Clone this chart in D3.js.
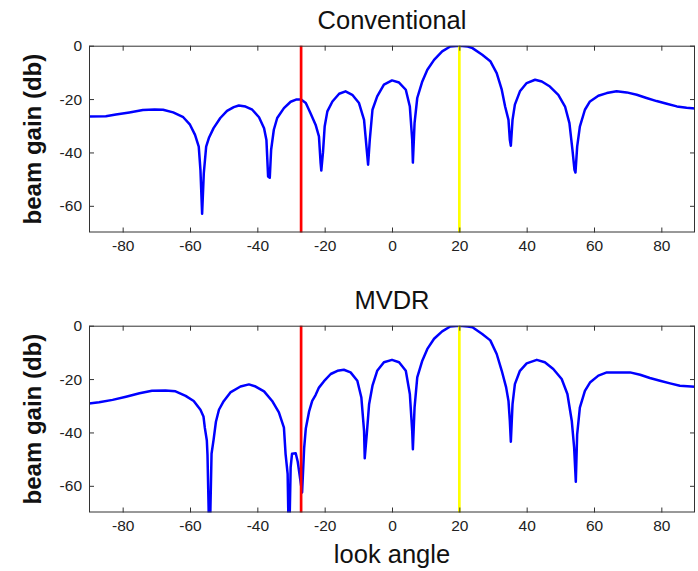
<!DOCTYPE html>
<html>
<head>
<meta charset="utf-8">
<script src="https://cdn.jsdelivr.net/npm/d3@7"></script>
<style>
	body { margin: 0; background: #fff; }
	svg { display: block; font-family: "Liberation Sans", Arial, sans-serif; }
</style>
</head>
<body>
<svg id="chart" width="698" height="571"></svg>
<script>
// beam pattern, angle in degrees, gain in db
const convAngle = [-90, -85, -82, -78, -74, -70.5, -68, -65, -62, -60, -58.5, -57.4, -56.9, -56.4, -55.9, -55.2, -54.4, -53, -51, -49, -47, -45.5, -43.5, -41.5, -39.5, -38, -37.3, -36.8, -36.3, -35.9, -35.1, -34.1, -32.1, -30.1, -28.5, -27, -25.6, -24.2, -22.7, -21.7, -21.2, -21, -20.5, -20, -19.2, -17.7, -15.7, -13.8, -11.8, -9.8, -8.3, -7.5, -7.1, -6.6, -5.8, -4.4, -2.4, 0, 2.1, 4.1, 5.3, 6, 6.2, 6.7, 7.5, 9, 10.5, 12.5, 14.9, 17.3, 20, 22.5, 23.9, 26.8, 29.2, 31.1, 32.6, 33.6, 34.6, 35, 35.3, 35.8, 36.5, 38, 40, 42.5, 44.5, 46.9, 49.4, 51.4, 52.7, 53.6, 54.2, 54.5, 55, 55.8, 57.3, 58.8, 61.3, 63.8, 66.7, 69.7, 72.7, 75.6, 78.6, 81.6, 84.6, 87.5, 90];
const convGain = [-26.5, -26.4, -25.8, -25, -24.1, -23.9, -24, -25, -26.8, -29.6, -33.4, -37.8, -46.5, -63, -47.8, -37.8, -34.6, -30.9, -27.1, -24.4, -23, -22.4, -22.8, -24, -26.8, -30.9, -35.3, -49, -49.5, -39, -31.5, -27.1, -23.4, -21, -20.2, -20.2, -21.5, -25.3, -29.6, -34, -44, -46.8, -40, -30.3, -24.6, -20.9, -18, -17.1, -18.4, -21.5, -27.8, -39, -44.6, -35.3, -24, -19, -14.6, -13, -13.8, -16.5, -22.8, -35.3, -43.8, -29, -19.6, -13.4, -9, -5.3, -2.1, -0.3, 0, -0.3, -0.9, -3.4, -5.8, -10.25, -16.5, -22.8, -27.8, -35.3, -37.5, -27.8, -22.1, -17.1, -14, -12.75, -13.4, -15.3, -18.4, -22.8, -29, -39, -46.5, -47.5, -37.8, -30.3, -24, -20.9, -18.75, -17.75, -17.1, -17.5, -18.4, -19.6, -20.75, -21.75, -22.75, -23.25, -23.5];

const mvdrAngle = [-90, -87, -83, -79, -75, -71.3, -67.3, -64.3, -61.3, -58.9, -56.9, -56, -55.6, -55, -54.8, -54.2, -53.6, -53, -52.3, -51.4, -50, -48, -45, -42.5, -40.5, -38, -35.6, -33.6, -32.1, -31.6, -31, -30.6, -30.1, -29.7, -28.6, -28, -26.7, -26.1, -25.6, -24.6, -23.7, -22.7, -21.7, -20.2, -18.2, -16.2, -14.3, -12.3, -10.3, -9.1, -8.3, -8.1, -7.5, -6.8, -5.8, -4.4, -2.4, 0, 2.1, 4.1, 5.3, 6, 6.2, 6.7, 7.5, 9, 10.5, 12.5, 14.9, 17.3, 20, 22.5, 23.9, 26.8, 29.2, 31.1, 32.6, 33.9, 34.6, 35, 35.3, 35.8, 36.5, 38, 40, 43, 45.4, 47.9, 50.4, 52.1, 53.4, 54.1, 54.6, 55, 55.8, 57.3, 58.8, 61.3, 63.8, 66.7, 70.7, 73.7, 76.6, 79.6, 82.6, 85.5, 90];
const mvdrGain = [-29.2, -28.7, -27.8, -26.6, -25.3, -24.4, -24.3, -24.6, -26.3, -28.2, -31.5, -34, -38.2, -43, -48.5, -85, -48, -42.8, -36, -31.5, -28.3, -25, -22.8, -22, -22.8, -24.6, -28.2, -32.5, -38.2, -48.2, -55.5, -85, -53, -48, -47.8, -51, -62.5, -46, -38.5, -32, -28.2, -26, -23.2, -20.8, -18.1, -16.9, -16.5, -17.5, -20.6, -26.9, -39.4, -49.7, -40.7, -29.4, -22.5, -16.9, -13.7, -12.8, -13.7, -16.9, -25.6, -39.4, -46.3, -30.7, -19.4, -13.1, -8.7, -4.9, -2.1, -0.3, 0, -0.3, -0.6, -3.1, -5.5, -10.6, -16.9, -23.1, -28.2, -35.7, -43.5, -29.4, -21.9, -16.9, -14.1, -12.8, -13.7, -16.2, -20, -25.6, -35.7, -45.7, -58.5, -40.7, -30.7, -24.4, -21.3, -18.7, -17.5, -17.5, -17.5, -18.4, -19.6, -20.6, -21.6, -22.5, -22.9];

const interferer = -27;  // red line
const lookDir = 20;      // yellow line
const xTicks = [-80, -60, -40, -20, 0, 20, 40, 60, 80];
const yTicks = [-60, -40, -20, 0];

const svg = d3.select('#chart');
const x = d3.scaleLinear().domain([-90, 90]).range([89, 695]);
const plain = (d) => String(d); // hyphen minus like matlab, not U+2212

function panel(id, title, angles, gains, top, showXLabel) {
	const bottom = top + 186.8;
	const y = d3.scaleLinear().domain([-70, 0]).range([bottom, top]);
	const g = svg.append('g');

	g.append('clipPath')
		.attr('id', 'clip-' + id)
		.append('rect')
		.attr('x', x(-90))
		.attr('y', top)
		.attr('width', x(90) - x(-90))
		.attr('height', bottom - top);

	// the pattern
	const line = d3.line()
		.x((d, i) => x(angles[i]))
		.y((d) => y(d));

	g.append('path')
		.attr('clip-path', 'url(#clip-' + id + ')')
		.attr('d', line(gains))
		.attr('fill', 'none')
		.attr('stroke', '#0000ff')
		.attr('stroke-width', 2.5)
		.attr('stroke-linejoin', 'round');

	// steering markers
	[[interferer, '#ff0000'], [lookDir, '#ffff00']].forEach(([a, c]) => {
		g.append('line')
			.attr('x1', x(a)).attr('x2', x(a))
			.attr('y1', top).attr('y2', bottom)
			.attr('stroke', c)
			.attr('stroke-width', 2.7);
	});

	// axes with inward ticks, matlab style box
	const style = (sel) => {
		sel.select('.domain').remove();
		sel.selectAll('line').attr('stroke', '#333');
		sel.selectAll('text').attr('fill', '#222').style('font-size', '15.5px');
	};
	g.append('g')
		.attr('transform', `translate(0,${bottom})`)
		.call(d3.axisBottom(x).tickValues(xTicks).tickFormat(plain).tickSize(-5).tickPadding(7))
		.call(style);
	g.append('g')
		.attr('transform', `translate(0,${top})`)
		.call(d3.axisTop(x).tickValues(xTicks).tickSize(-5).tickFormat(''))
		.call(style);
	g.append('g')
		.attr('transform', `translate(${x(-90)},0)`)
		.call(d3.axisLeft(y).tickValues(yTicks).tickFormat(plain).tickSize(-5).tickPadding(7))
		.call(style);
	g.append('g')
		.attr('transform', `translate(${x(90)},0)`)
		.call(d3.axisRight(y).tickValues(yTicks).tickSize(-5).tickFormat(''))
		.call(style);

	g.append('rect')
		.attr('x', x(-90) + 0.5)
		.attr('y', top + 0.5)
		.attr('width', x(90) - x(-90) - 1)
		.attr('height', bottom - top - 1)
		.attr('fill', 'none')
		.attr('stroke', '#333');

	g.append('text')
		.text(title)
		.attr('x', (x(-90) + x(90)) / 2)
		.attr('y', top - 16.7)
		.attr('text-anchor', 'middle')
		.attr('fill', '#111')
		.style('font-size', '25.5px');

	g.append('text')
		.text('beam gain (db)')
		.attr('transform', `translate(41,${(top + bottom) / 2}) rotate(-90)`)
		.attr('text-anchor', 'middle')
		.attr('fill', '#111')
		.style('font-size', '24px')
		.style('font-weight', 'bold');

	if (showXLabel) {
		g.append('text')
			.text('look angle')
			.attr('x', (x(-90) + x(90)) / 2)
			.attr('y', bottom + 50)
			.attr('text-anchor', 'middle')
			.attr('fill', '#111')
			.style('font-size', '25.5px');
	}
}

panel('conv', 'Conventional', convAngle, convGain, 45.7, false);
panel('mvdr', 'MVDR', mvdrAngle, mvdrGain, 325.7, true);
</script>
</body>
</html>
